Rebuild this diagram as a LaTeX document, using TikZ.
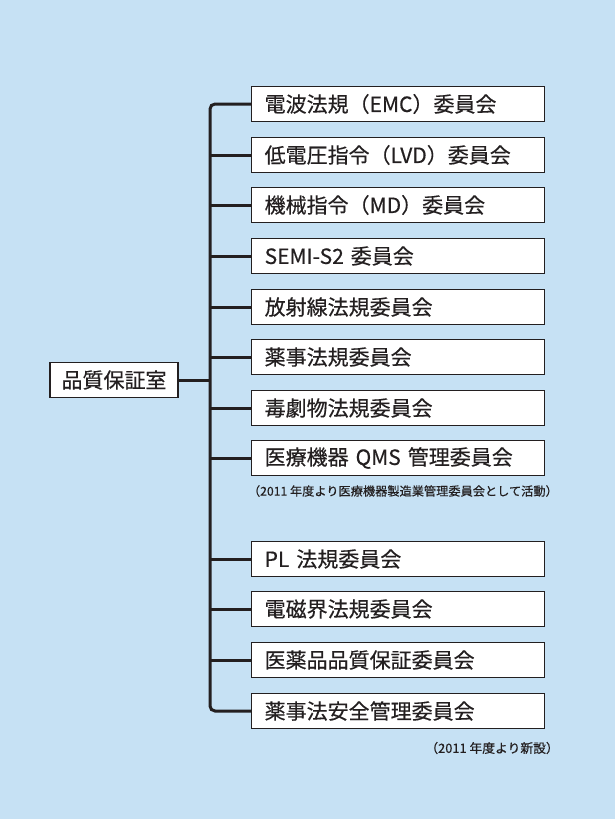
\documentclass[tikz,border=0pt]{standalone}
\usepackage{fontspec}
\setmainfont{Noto Sans CJK JP}[FakeBold=0.4]
\definecolor{bgblue}{RGB}{198,225,244}
\definecolor{ink}{RGB}{35,31,32}
\begin{document}
\begin{tikzpicture}[x=1pt,y=-1pt,
  ent/.style={draw=ink,line width=1.3pt,fill=white,anchor=west,minimum height=35pt,
    text width=267pt,inner xsep=13pt,inner ysep=0pt,align=left,text=ink,font=\fontsize{21}{24}\selectfont},
  rootbox/.style={draw=ink,line width=1.3pt,fill=white,minimum height=35pt,minimum width=128pt,
    inner sep=0pt,text=ink,font=\fontsize{21}{24}\selectfont},
  conn/.style={line width=3pt,draw=ink},
  note/.style={anchor=east,inner sep=0pt,text=ink}]
\fill[bgblue] (0,0) rectangle (615,819);
\useasboundingbox (0,0) rectangle (615,819);
\coordinate (trunk) at (210,380);
\node[ent] (e1) at (251,104) {電波法規（EMC）委員会};
\node[ent] (e2) at (251,155) {低電圧指令（LVD）委員会};
\node[ent] (e3) at (251,205) {機械指令（MD）委員会};
\node[ent] (e4) at (251,256) {SEMI-S2 委員会};
\node[ent] (e5) at (251,307) {放射線法規委員会};
\node[ent] (e6) at (251,357) {薬事法規委員会};
\node[ent] (e7) at (251,408) {毒劇物法規委員会};
\node[ent] (e8) at (251,458) {医療機器 QMS 管理委員会};
\node[ent] (e9) at (251,559) {PL 法規委員会};
\node[ent] (e10) at (251,609) {電磁界法規委員会};
\node[ent] (e11) at (251,660) {医薬品品質保証委員会};
\node[ent] (e12) at (251,711) {薬事法安全管理委員会};
\node[rootbox] (root) at (114,380) {品質保証室};
\node[note,font=\fontsize{12.2}{14}\selectfont] (n1) at (558,491) {（2011 年度より医療機器製造業管理委員会として活動）};
\node[note,font=\fontsize{12.8}{14}\selectfont] (n2) at (559,748) {（2011 年度より新設）};
\draw[conn,rounded corners=5pt] (e1.west) -| (trunk) |- (e12.west);
\foreach \i in {2,...,11} {\draw[conn] (e\i.west) -- (e\i.west -| trunk);}
\draw[conn] (root.east) -- (trunk);
\end{tikzpicture}
\end{document}
